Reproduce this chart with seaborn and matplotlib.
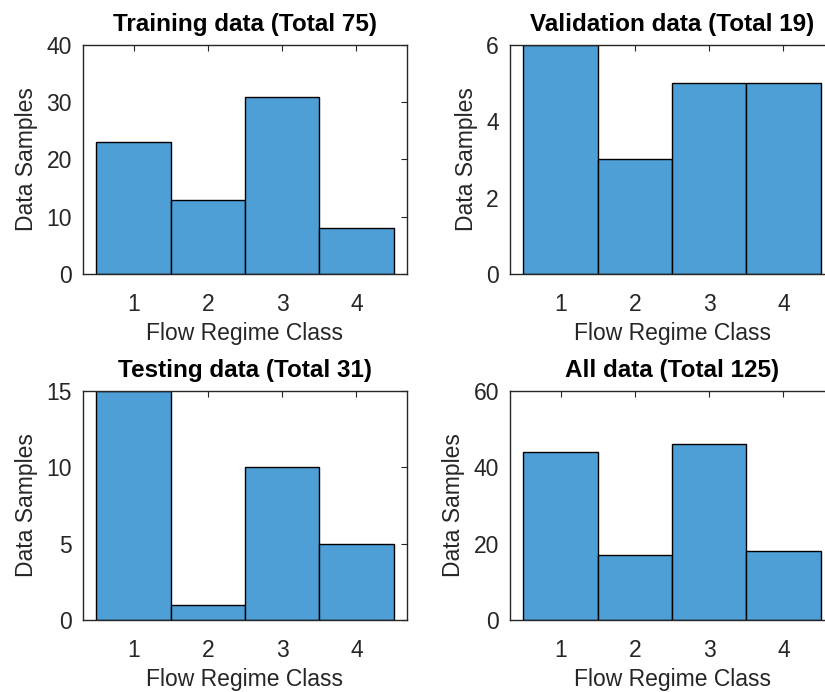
import matplotlib
matplotlib.use("Agg")
import matplotlib.pyplot as plt
import seaborn as sns
import numpy as np

sns.set_style("white")
plt.rcParams['font.family'] = ['Liberation Sans', 'DejaVu Sans']

classes = [1, 2, 3, 4]
train_counts = [23, 13, 31, 8]
valid_counts = [6, 3, 5, 5]
test_counts = [15, 1, 10, 5]
all_counts = [44, 17, 46, 18]
titles = ["Training data (Total 75)", "Validation data (Total 19)",
          "Testing data (Total 31)", "All data (Total 125)"]
ylims = [40, 6, 15, 60]
yticks = [[0, 10, 20, 30, 40], [0, 2, 4, 6], [0, 5, 10, 15], [0, 20, 40, 60]]

W, H = 825, 692
fig = plt.figure(figsize=(W / 100, H / 100), dpi=100)

# axes boxes in pixels: (left, top, width, height)
boxes = [(83, 45, 324, 229), (510, 45, 324, 229),
         (83, 391, 324, 229), (510, 391, 324, 229)]
data = [train_counts, valid_counts, test_counts, all_counts]
dark = "#262626"

for box, counts, title, ylim, yt in zip(boxes, data, titles, ylims, yticks):
    l, t, w, h = box
    ax = fig.add_axes([l / W, 1 - (t + h) / H, w / W, h / H])
    sns.histplot(x=classes, weights=counts, discrete=True, ax=ax,
                 color="#4d9fd6", alpha=1, edgecolor="black", linewidth=1)
    ax.set_xlim(0.32, 4.68)
    ax.set_ylim(0, ylim)
    ax.set_xticks(classes)
    ax.set_yticks(yt)
    ax.tick_params(direction="in", top=True, right=True, length=4,
                   labelsize=16.5, colors=dark, labelcolor=dark, width=0.8)
    ax.tick_params(axis="x", pad=14)
    ax.tick_params(axis="y", pad=8)
    for s in ax.spines.values():
        s.set_color(dark)
        s.set_linewidth(1)
    ax.set_title(title, fontsize=17.5, fontweight="bold", color="black", pad=10)
    ax.set_xlabel("Flow Regime Class", fontsize=16.5, color=dark, labelpad=4)
    ax.set_ylabel("Data Samples", fontsize=16.5, color=dark, labelpad=6)

fig.savefig("out.png", dpi=100)
